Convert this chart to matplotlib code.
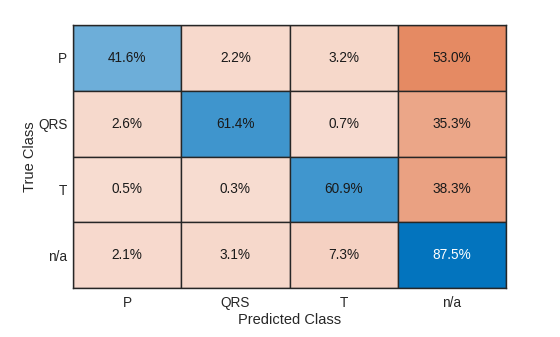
import numpy as np
import matplotlib
matplotlib.use("Agg")
import matplotlib.pyplot as plt

plt.rcParams['font.family'] = ['Liberation Sans', 'DejaVu Sans']

classes = ["P", "QRS", "T", "n/a"]
# row-normalised percentages, rows = true class, cols = predicted class
row_P = [41.6, 2.2, 3.2, 53.0]
row_QRS = [2.6, 61.4, 0.7, 35.3]
row_T = [0.5, 0.3, 60.9, 38.3]
row_na = [2.1, 3.1, 7.3, 87.5]
pct = np.array([row_P, row_QRS, row_T, row_na])

blue = np.array([0.0, 0.447, 0.741])
orange = np.array([0.85, 0.325, 0.098])


def shade(v, base):
    a = min(0.2 + 0.9 * v / 100.0, 1.0)
    return (1 - a) * np.ones(3) + a * base


n = len(classes)
fig = plt.figure(figsize=(5.6, 3.37), dpi=100)
ax = fig.add_axes([73 / 560, 1 - 288 / 337, (506 - 73) / 560, (288 - 25) / 337])

for i in range(n):
    for j in range(n):
        c = shade(pct[i, j], blue if i == j else orange)
        ax.add_patch(plt.Rectangle((j, i), 1, 1, facecolor=c,
                                   edgecolor='#262626', linewidth=1.0))
        dark = pct[i, j] > 80
        ax.text(j + 0.5, i + 0.5, f"{pct[i, j]:.1f}%", ha='center', va='center',
                fontsize=9.8, color='white' if dark else '#1a1a1a')

ax.set_xlim(0, n)
ax.set_ylim(n, 0)
ax.set_xticks(np.arange(n) + 0.5)
ax.set_yticks(np.arange(n) + 0.5)
ax.set_xticklabels(classes, fontsize=9.8, color='#262626')
ax.set_yticklabels(classes, fontsize=9.8, color='#262626')
ax.tick_params(axis='x', length=0, pad=6)
ax.tick_params(axis='y', length=0, pad=4)
for s in ax.spines.values():
    s.set_color('#262626')
    s.set_linewidth(1.0)
ax.set_xlabel("Predicted Class", fontsize=10.5, color='#262626', labelpad=2)
ax.set_ylabel("True Class", fontsize=10.5, color='#262626', labelpad=1)

fig.savefig("out.png", dpi=100)
